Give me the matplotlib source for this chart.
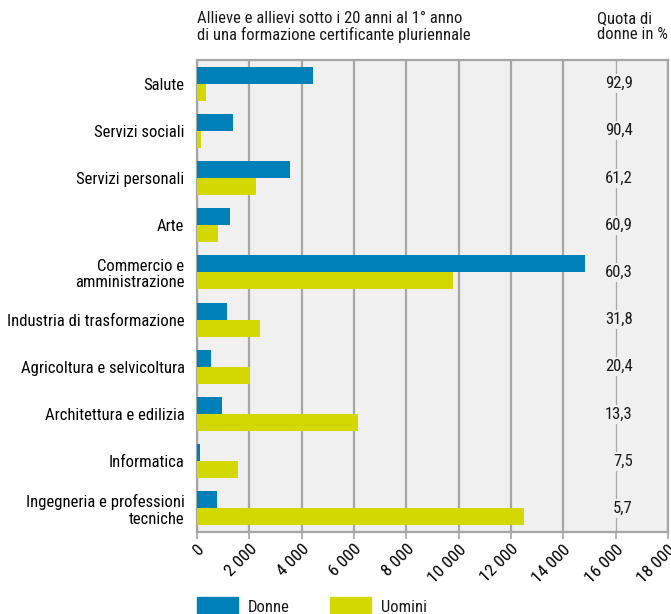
import matplotlib.pyplot as plt
from matplotlib.ticker import FuncFormatter
from matplotlib.patches import Rectangle
from matplotlib import font_manager

# dati
categorie = ['Salute', 'Servizi sociali', 'Servizi personali', 'Arte',
             'Commercio e\namministrazione', 'Industria di trasformazione',
             'Agricoltura e selvicoltura', 'Architettura e edilizia',
             'Informatica', 'Ingegneria e professioni\ntecniche']
donne = [4430, 1380, 3550, 1260, 14830, 1150, 540, 950, 130, 760]
uomini = [340, 150, 2250, 800, 9780, 2410, 2030, 6150, 1570, 12500]
quota = ['92,9', '90,4', '61,2', '60,9', '60,3', '31,8', '20,4', '13,3', '7,5', '5,7']

blu = '#0080b8'
giallo = '#d3d800'
grigio = '#a6a6a6'
sfondo = '#f0f0f0'

# font stretto, se presente
nomi = {f.name for f in font_manager.fontManager.ttflist}
candidati = ['Roboto Condensed', 'Archivo Narrow', 'PT Sans Narrow',
             'Liberation Sans Narrow', 'Pragati Narrow', 'Open Sans Condensed']
font = next((c for c in candidati if c in nomi), 'DejaVu Sans')
plt.rcParams['font.family'] = [font, 'DejaVu Sans']
plt.rcParams['font.size'] = 12
plt.rcParams['text.color'] = '#1a1a1a'

fig = plt.figure(figsize=(6.71, 6.14), dpi=100)
ax = fig.add_axes([197 / 671, 1 - 532 / 614, 471 / 671, 472 / 614])
ax.set_facecolor(sfondo)

y = list(range(len(categorie)))
h = 0.36
ax.barh([i - h / 2 for i in y], donne, height=h, color=blu, zorder=3)
ax.barh([i + h / 2 for i in y], uomini, height=h, color=giallo, zorder=3)

ax.set_xlim(0, 18000)
ax.set_ylim(len(categorie) - 0.5, -0.5)
ax.set_xticks(range(0, 18001, 2000))
ax.xaxis.set_major_formatter(FuncFormatter(lambda v, p: f'{int(v):,}'.replace(',', ' ')))
ax.set_yticks(y)
ax.set_yticklabels(categorie, ha='right', linespacing=1.1)
ax.tick_params(axis='y', length=0, pad=9)
ax.tick_params(axis='x', length=5, width=1.2, color=grigio, pad=2, labelsize=12.5)
for lab in ax.get_xticklabels():
    lab.set_rotation(45)
    lab.set_ha('right')
    lab.set_va('top')
    lab.set_rotation_mode('anchor')

ax.grid(axis='x', color=grigio, linewidth=1.6, zorder=1)
ax.xaxis.get_gridlines()[8].set_linewidth(0.9)
for s in ax.spines.values():
    s.set_color(grigio)
    s.set_linewidth(1.6)

# quota di donne
for i, q in enumerate(quota):
    ax.text(16650, i, q, ha='right', va='center', zorder=4,
            bbox=dict(facecolor=sfondo, edgecolor='none', pad=1.5))

# intestazioni
fig.text(197 / 671, 1 - 11 / 614,
         'Allieve e allievi sotto i 20 anni al 1° anno\ndi una formazione certificante pluriennale',
         ha='left', va='top', linespacing=1.05)
fig.text(597 / 671, 1 - 11 / 614, 'Quota di\ndonne in %', ha='left', va='top', linespacing=1.05)

# legenda
fig.patches.append(Rectangle((197 / 671, 0), 41 / 671, 17 / 614, transform=fig.transFigure,
                             color=blu))
fig.text(248 / 671, 7 / 614, 'Donne', ha='left', va='center')
fig.patches.append(Rectangle((330 / 671, 0), 41 / 671, 17 / 614, transform=fig.transFigure,
                             color=giallo))
fig.text(381 / 671, 7 / 614, 'Uomini', ha='left', va='center')

fig.savefig('out.png', dpi=100)
